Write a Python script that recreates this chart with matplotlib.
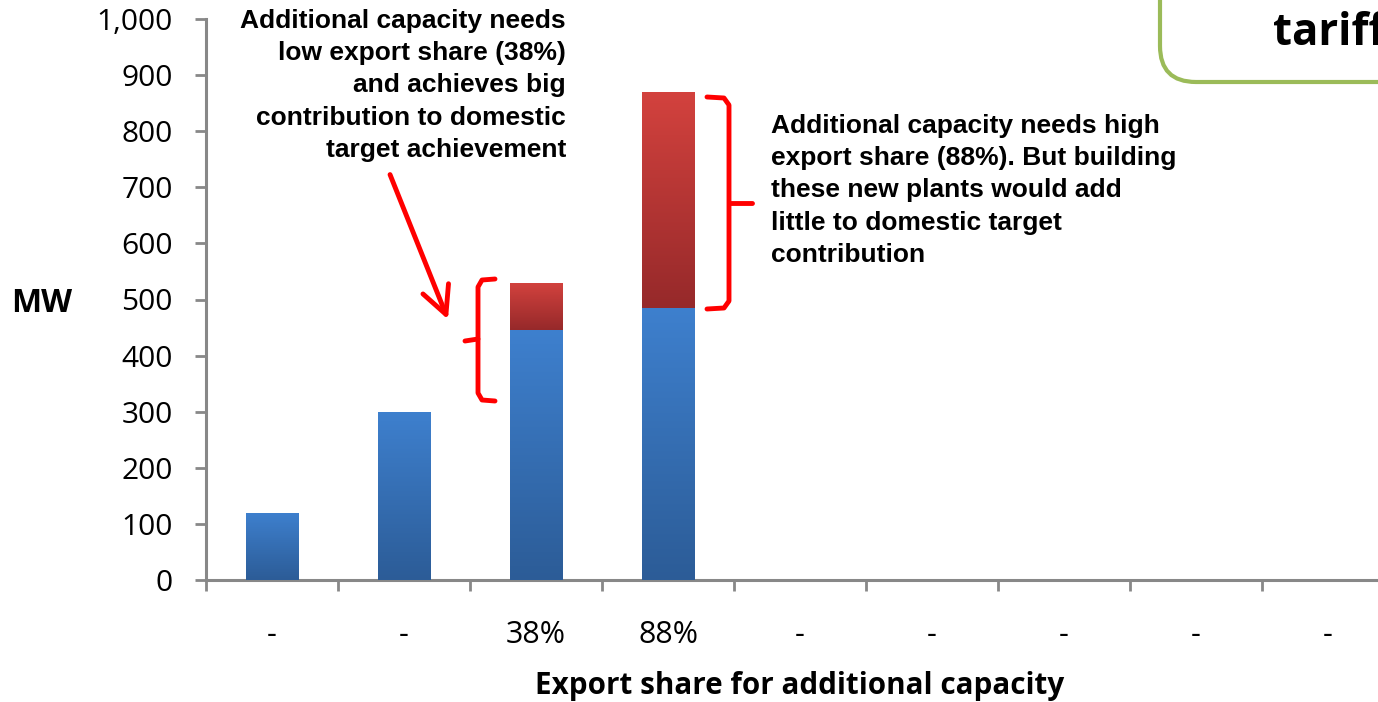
import matplotlib
matplotlib.use('Agg')
import matplotlib.pyplot as plt
import numpy as np
from matplotlib.colors import LinearSegmentedColormap
from matplotlib.patches import FancyBboxPatch
from matplotlib.lines import Line2D
from matplotlib.ticker import FuncFormatter
import matplotlib.transforms as mtransforms

# ---- data ----
categories = ['-', '-', '38%', '88%', '-', '-', '-', '-', '-']
domestic_mw = [120, 300, 445, 485, 0, 0, 0, 0, 0]
export_mw = [0, 0, 85, 385, 0, 0, 0, 0, 0]
y_ticks = [0, 100, 200, 300, 400, 500, 600, 700, 800, 900, 1000]

note_left = ("Additional capacity needs\nlow export share (38%)\nand achieves big\n"
             "contribution to domestic\ntarget achievement")
note_right = ("Additional capacity needs high\nexport share (88%). But building\n"
              "these new plants would add\nlittle to domestic target\ncontribution")

W, H = 1378, 702
fig = plt.figure(figsize=(W / 100, H / 100), dpi=100)
fig.patch.set_facecolor('white')


def fx(px):
    return px / W


def fy(py):
    return 1 - py / H


TICK_FONT = 'Open Sans'
NOTE_FONT = 'Liberation Sans'
AX_GRAY = '#888888'

ax = fig.add_axes([fx(206), fy(580), (1394 - 206) / W, (580 - 19) / H])
x = np.arange(len(categories))

blue_cmap = LinearSegmentedColormap.from_list('blue_grad', ['#2c5c97', '#3e80ce'])
red_cmap = LinearSegmentedColormap.from_list('red_grad', ['#96292a', '#d3423e'])
grad = np.linspace(0, 1, 256).reshape(-1, 1)

bars_dom = ax.bar(x, domestic_mw, width=0.4, color='none', edgecolor='none', zorder=3)
bars_exp = ax.bar(x, export_mw, width=0.4, bottom=domestic_mw, color='none',
                  edgecolor='none', zorder=3)


def gradient_fill(bars, cmap):
    for b in bars:
        h = b.get_height()
        if h <= 0:
            continue
        x0, y0, w = b.get_x(), b.get_y(), b.get_width()
        im = ax.imshow(grad, cmap=cmap, origin='lower', aspect='auto',
                       extent=[x0, x0 + w, y0, y0 + h], zorder=3, interpolation='bilinear')
        im.set_clip_path(b)


gradient_fill(bars_dom, blue_cmap)
gradient_fill(bars_exp, red_cmap)

ax.set_xlim(-0.5, len(categories) - 0.5)
ax.set_ylim(0, 1000)

for s in ['top', 'right']:
    ax.spines[s].set_visible(False)
for s in ['left', 'bottom']:
    ax.spines[s].set_color(AX_GRAY)
    ax.spines[s].set_linewidth(2.2)

ax.set_yticks(y_ticks)
ax.yaxis.set_major_formatter(FuncFormatter(lambda v, p: f'{v:,.0f}'))
ax.tick_params(axis='y', direction='out', length=8, width=2, color=AX_GRAY,
               pad=16, labelsize=21.5)
for lab in ax.get_yticklabels():
    lab.set_fontfamily(TICK_FONT)

ax.set_xticks(np.arange(len(categories) + 1) - 0.5)
ax.set_xticklabels([])
ax.tick_params(axis='x', which='major', direction='out', length=8, width=2, color=AX_GRAY)
ax.set_xticks(x, minor=True)
ax.set_xticklabels(categories, minor=True, fontfamily=TICK_FONT, fontsize=22)
ax.tick_params(axis='x', which='minor', length=0, pad=29)

ax.set_xlabel('Export share for additional capacity', fontfamily=TICK_FONT,
              fontsize=21.3, fontweight='bold')
ax.xaxis.set_label_coords(0.5, (580 - 686) / 561)
ax.xaxis.label.set_va('center')
ax.set_ylabel('MW', rotation=0, fontfamily=TICK_FONT, fontsize=23, fontweight='bold')
ax.yaxis.set_label_coords((42 - 206) / 1188, (580 - 303) / 561)
ax.yaxis.label.set_va('center')
ax.yaxis.label.set_ha('center')

# ---- annotations ----
fig.text(fx(566), fy(9), note_left, ha='right', va='top', fontfamily=NOTE_FONT,
         fontsize=19, fontweight='bold', linespacing=1.43)
fig.text(fx(771), fy(114), note_right, ha='left', va='top', fontfamily=NOTE_FONT,
         fontsize=19, fontweight='bold', linespacing=1.43)

RED = '#ff0000'


def fig_line(pts, lw=3.5):
    xs = [fx(p[0]) for p in pts]
    ys = [fy(p[1]) for p in pts]
    fig.add_artist(Line2D(xs, ys, transform=fig.transFigure, color=RED, lw=lw,
                          solid_joinstyle='round', solid_capstyle='round'))


# left brace
fig_line([(495, 279), (482, 280), (478, 287), (478, 393), (482, 400), (495, 401)])
fig_line([(478, 339), (465, 341)])
# right brace
fig_line([(707, 97), (724, 98), (729, 105), (729, 301), (724, 308), (707, 309)])
fig_line([(729, 203), (752, 203)])

# arrow
fig.add_artist(matplotlib.patches.FancyArrowPatch(
    (fx(389), fy(172)), (fx(449), fy(322)), transform=fig.transFigure,
    arrowstyle='->,head_length=0.9,head_width=0.45', mutation_scale=22,
    color=RED, lw=3.5, capstyle='round', joinstyle='round'))

# green rounded box in the top-right corner (clipped by the figure edge, as in the source)
box = FancyBboxPatch((1160, 702 - 82), 400, 300, boxstyle='round,pad=0,rounding_size=36',
                     transform=mtransforms.IdentityTransform(), facecolor='white',
                     edgecolor='#9bbb59', lw=3)
fig.add_artist(box)
fig.text(fx(1273), fy(45), 'tariff', ha='left', va='baseline', fontfamily=TICK_FONT,
         fontsize=31.5, fontweight='bold')

fig.savefig('out.png', dpi=100)
